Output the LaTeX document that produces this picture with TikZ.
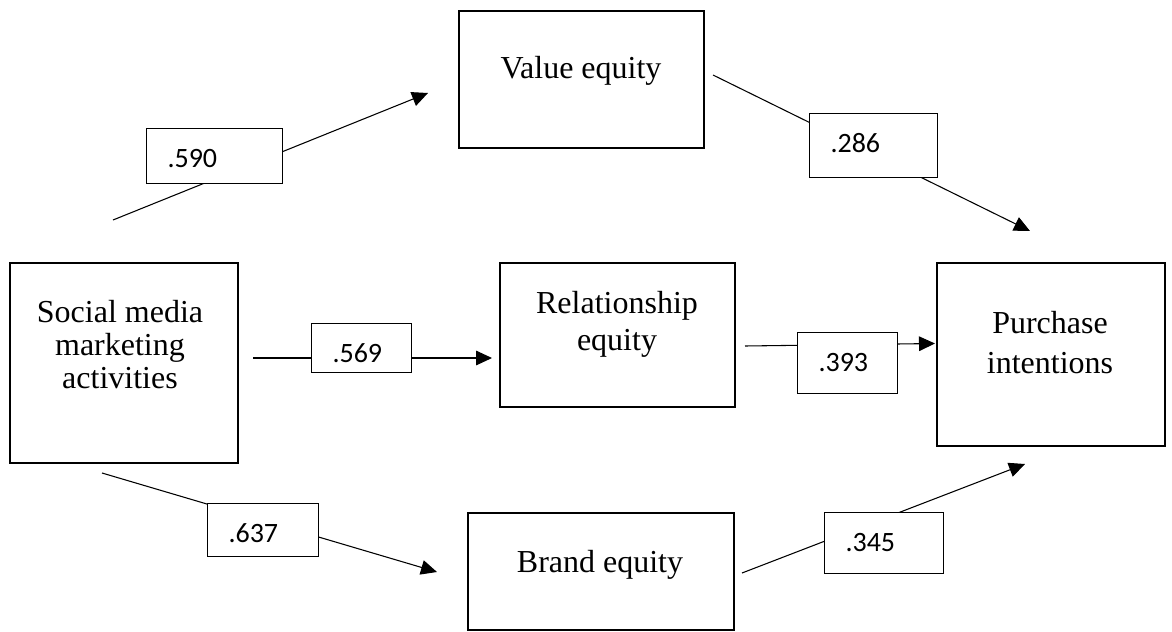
\documentclass[tikz,border=0pt]{standalone}
\usepackage{fontspec}
\setmainfont{Liberation Serif}
\newfontfamily\lblfont{Carlito}
\usetikzlibrary{arrows.meta}

\begin{document}
\begin{tikzpicture}[x=0.75pt, y=-0.75pt,
  construct/.style={draw, line width=1.6pt, rectangle, inner sep=0pt, fill=white},
  ctext/.style={inner sep=0pt, anchor=base, font=\fontsize{24}{24}\selectfont},
  path/.style={line width=0.8pt, -{Triangle[length=12pt, width=11pt]}},
  coef/.style={draw, line width=0.75pt, fill=white, anchor=north west,
    inner xsep=15.75pt, inner ysep=0pt, align=left, text height=22.5pt,
    font=\lblfont\fontsize{21}{21}\selectfont}
]
\useasboundingbox[fill=white] (0,0) rectangle (1172,632);

% constructs
\node[construct, minimum width=171pt, minimum height=150pt]  (smma)  at (124,363) {};
\node[construct, minimum width=183.75pt, minimum height=102.75pt] (value) at (581.5,79.5) {};
\node[construct, minimum width=176.25pt, minimum height=108pt] (rel)   at (617.5,335) {};
\node[construct, minimum width=199.5pt, minimum height=87.75pt]  (brand) at (601,571.5) {};
\node[construct, minimum width=171pt, minimum height=137.25pt] (purch) at (1051,354.5) {};

% construct names
\node[ctext] (smmaT) at (120,322) {\fontsize{24}{24.75}\selectfont
  \begin{tabular}[t]{@{}c@{}}Social media\\marketing\\activities\end{tabular}};
\node[ctext] (valueT) at (581,78) {Value equity};
\node[ctext] (relT) at (617,313) {\fontsize{24}{27.75}\selectfont
  \begin{tabular}[t]{@{}c@{}}Relationship\\equity\end{tabular}};
\node[ctext] (brandT) at (600,572) {Brand equity};
\node[ctext] (purchT) at (1050,333) {\fontsize{24}{30}\selectfont
  \begin{tabular}[t]{@{}c@{}}Purchase\\intentions\end{tabular}};

% path end points
\coordinate (s590) at (113,220);  \coordinate (t590) at (428,93);
\coordinate (s286) at (713,75);   \coordinate (t286) at (1030,231);
\coordinate (s569) at (253,358);  \coordinate (t569) at (492,358);
\coordinate (s393) at (745,346);  \coordinate (t393) at (935,343.5);
\coordinate (s637) at (102,473);  \coordinate (t637) at (437,572);
\coordinate (s345) at (742,573);  \coordinate (t345) at (1025,464);

% structural paths
\draw[path] (s590) -- (t590);
\draw[path] (s286) -- (t286);
\draw[path] (s569) -- (t569);
\draw[path] (s393) -- (t393);
\draw[path] (s637) -- (t637);
\draw[path] (s345) -- (t345);

% path coefficients
\node[coef, text width=70.5pt, text depth=5.25pt, minimum height=41.25pt] (c590) at (146,128) {.590};
\node[coef, text width=64.5pt, text depth=12pt,   minimum height=48pt]    (c286) at (809,113) {.286};
\node[coef, text width=43.5pt, text depth=0.75pt, minimum height=36.75pt] (c569) at (311,323) {.569};
\node[coef, text width=43.5pt, text depth=9.75pt, minimum height=45.75pt] (c393) at (797,332) {.393};
\node[coef, text width=51.75pt, text depth=3.75pt, minimum height=39.75pt] (c637) at (207,503) {.637};
\node[coef, text width=57.75pt, text depth=9.75pt, minimum height=45.75pt] (c345) at (824,512) {.345};
\end{tikzpicture}
\end{document}
